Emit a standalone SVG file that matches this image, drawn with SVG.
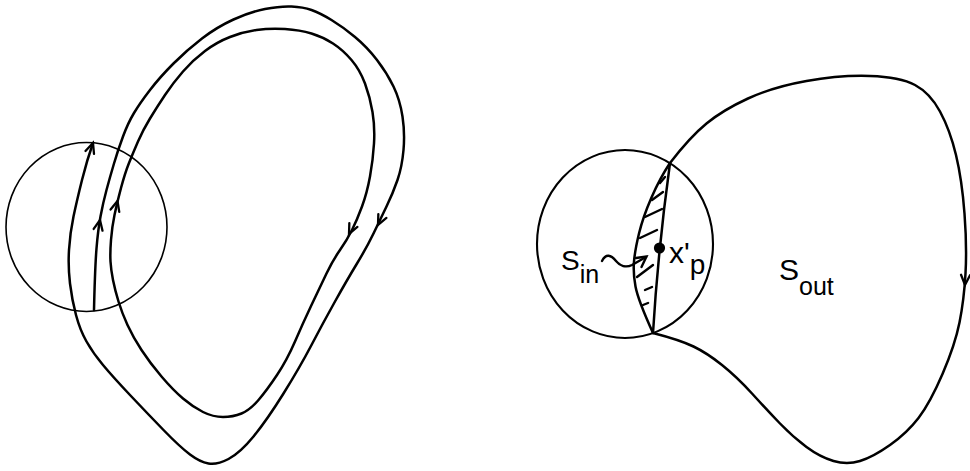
<svg xmlns="http://www.w3.org/2000/svg" width="970" height="471" viewBox="0 0 970 471">
<style>
.bg{fill:#fff}
.curve{fill:none;stroke:#000;stroke-width:2.5;stroke-linecap:round;stroke-linejoin:round}
.thin{fill:none;stroke:#000;stroke-width:1.6}
.ring{fill:none;stroke:#000;stroke-width:2.1}
.hatch{fill:none;stroke:#000;stroke-width:2.4;stroke-linecap:round}
.lbl{font-family:"Liberation Sans",Arial,sans-serif;fill:#000}
</style>
<defs>
<path id="ah" d="M-4.5,-10 L0,0 L4.5,-10" fill="none" stroke="#000" stroke-width="2.3" stroke-linejoin="miter" stroke-linecap="round"/>
</defs>
<rect class="bg" x="0" y="0" width="970" height="471"/>

<g id="left-figure">
  <g id="left-circle"><ellipse class="thin" cx="86.5" cy="227" rx="80.5" ry="84.5"/></g>
  <g id="connectors-left">
    <path id="outer-path" class="curve" d="M94,310 Q95,267 96.5,248.5 Q98,230 100.5,216.5 Q103,203 106.5,190 Q110,177 114,163.5 Q118,150 123,136.5 Q128,123 134,113 Q140,103 150,90 Q160,77 173.5,63.5 Q187,50 202,38.5 Q217,27 233.5,19.5 Q250,12 265,9 Q280,6 291.5,6.5 Q303,7 311.5,10 Q320,13 331.5,20 Q343,27 355,37 Q367,47 377,60 Q387,73 393.5,86.5 Q400,100 402.5,116.5 Q405,133 403.5,150 Q402,167 397.5,180 Q393,193 386.5,206.5 Q380,220 373.5,233.5 Q367,247 357,263.5 Q347,280 335,301.5 Q323,323 311.5,345 Q300,367 283.5,393.5 Q267,420 253.5,436.5 Q240,453 228.5,459 Q217,465 208.5,463.5 Q200,462 190,454.5 Q180,447 163.5,430 Q147,413 130,395 Q113,377 103,365 Q93,353 86.5,341.5 Q80,330 76,315 Q72,300 70,283.5 Q68,267 69,250 Q70,233 73.5,216.5 Q77,200 82,180 Q87,160 93,143"/>
    <path id="inner-loop" class="curve" d="M110.5,261.5 Q110,253 111,240 Q112,227 114.5,215 Q117,203 121,188 Q125,173 129,163 Q133,153 138,141.5 Q143,130 150,118.5 Q157,107 165,95 Q173,83 183,71.5 Q193,60 205,51 Q217,42 230,37 Q243,32 256.5,30 Q270,28 285,29 Q300,30 311.5,33.5 Q323,37 333,43.5 Q343,50 351.5,60 Q360,70 365,83.5 Q370,97 372.5,112 Q375,127 374,143.5 Q373,160 370,176.5 Q367,193 362,206.5 Q357,220 352,230 Q347,240 340,250 Q333,260 326.5,273.5 Q320,287 311.5,305 Q303,323 295,341.5 Q287,360 277,375 Q267,390 258.5,400 Q250,410 241.5,413.5 Q233,417 223,417 Q213,417 203,412 Q193,407 183,398.5 Q173,390 161.5,376.5 Q150,363 141.5,350 Q133,337 127.5,325 Q122,313 118.5,301.5 Q115,290 113,280 Q111,270 110.5,261.5 Z"/>
    <use href="#ah" transform="translate(93,143) rotate(199)"/>
    <use href="#ah" transform="translate(100,220) rotate(191)"/>
    <use href="#ah" transform="translate(117.5,201) rotate(195)"/>
    <use href="#ah" transform="translate(349,234) rotate(26)"/>
    <use href="#ah" transform="translate(378,225) rotate(26)"/>
  </g>
</g>

<g id="right-figure">
  <g id="right-circle"><ellipse class="ring" cx="625" cy="244" rx="88" ry="94"/></g>
  <g id="region-boundary">
    <path class="curve" d="M670,163 Q690,137 706.5,123.5 Q723,110 748,98.5 Q773,87 806.5,81 Q840,75 870,76 Q900,77 915,85 Q930,93 940,111.5 Q950,130 956,155 Q962,180 964.5,213.5 Q967,247 965.5,273.5 Q964,300 959.5,322.5 Q955,345 942.5,374 Q930,403 918.5,418 Q907,433 890,445 Q873,457 860,461 Q847,465 833.5,461 Q820,457 806.5,447 Q793,437 780,423.5 Q767,410 752,393.5 Q737,377 722,365 Q707,353 693.5,346.5 Q680,340 653,333"/>
    <use href="#ah" transform="translate(965,285) rotate(3)"/>
  </g>
  <g id="lens">
    <path class="curve" d="M670,163 Q660,178 651.5,197.5 Q643,217 639,233.5 Q635,250 634,261.5 Q633,273 635.5,286.5 Q638,300 653,333"/>
    <path class="curve" d="M670,163 Q658,250 653,333"/>
    <g id="hatching">
      <path class="hatch" d="M660,183 L665,177"/>
      <path class="hatch" d="M652,200 L663,192"/>
      <path class="hatch" d="M645,217 L662,209"/>
      <path class="hatch" d="M640,238 L657,230"/>
      <path class="hatch" d="M637,277 L653,265"/>
      <path class="hatch" d="M645,290 L652,287"/>
      <path class="hatch" d="M643,305 L648,303"/>
    </g>
  </g>
  <g id="point-xp">
    <circle cx="659.5" cy="248" r="5.6" fill="#000"/>
    <text class="lbl" x="669" y="263" font-size="30">x'<tspan font-size="28" dy="11">p</tspan></text>
  </g>
  <g id="label-sin">
    <text class="lbl" x="561" y="270" font-size="28">S<tspan font-size="25" dy="13">in</tspan></text>
    <path class="hatch" d="M602,261 C606,253 611,255 616,261 C620,266 626,268 632,265 L646,257"/>
    <path class="hatch" d="M636,258 L646.5,256.5 L641.5,267" stroke-linejoin="miter"/>
  </g>
  <g id="label-sout">
    <text class="lbl" x="779" y="280" font-size="30">S<tspan font-size="25" dy="15">out</tspan></text>
  </g>
</g>
</svg>
